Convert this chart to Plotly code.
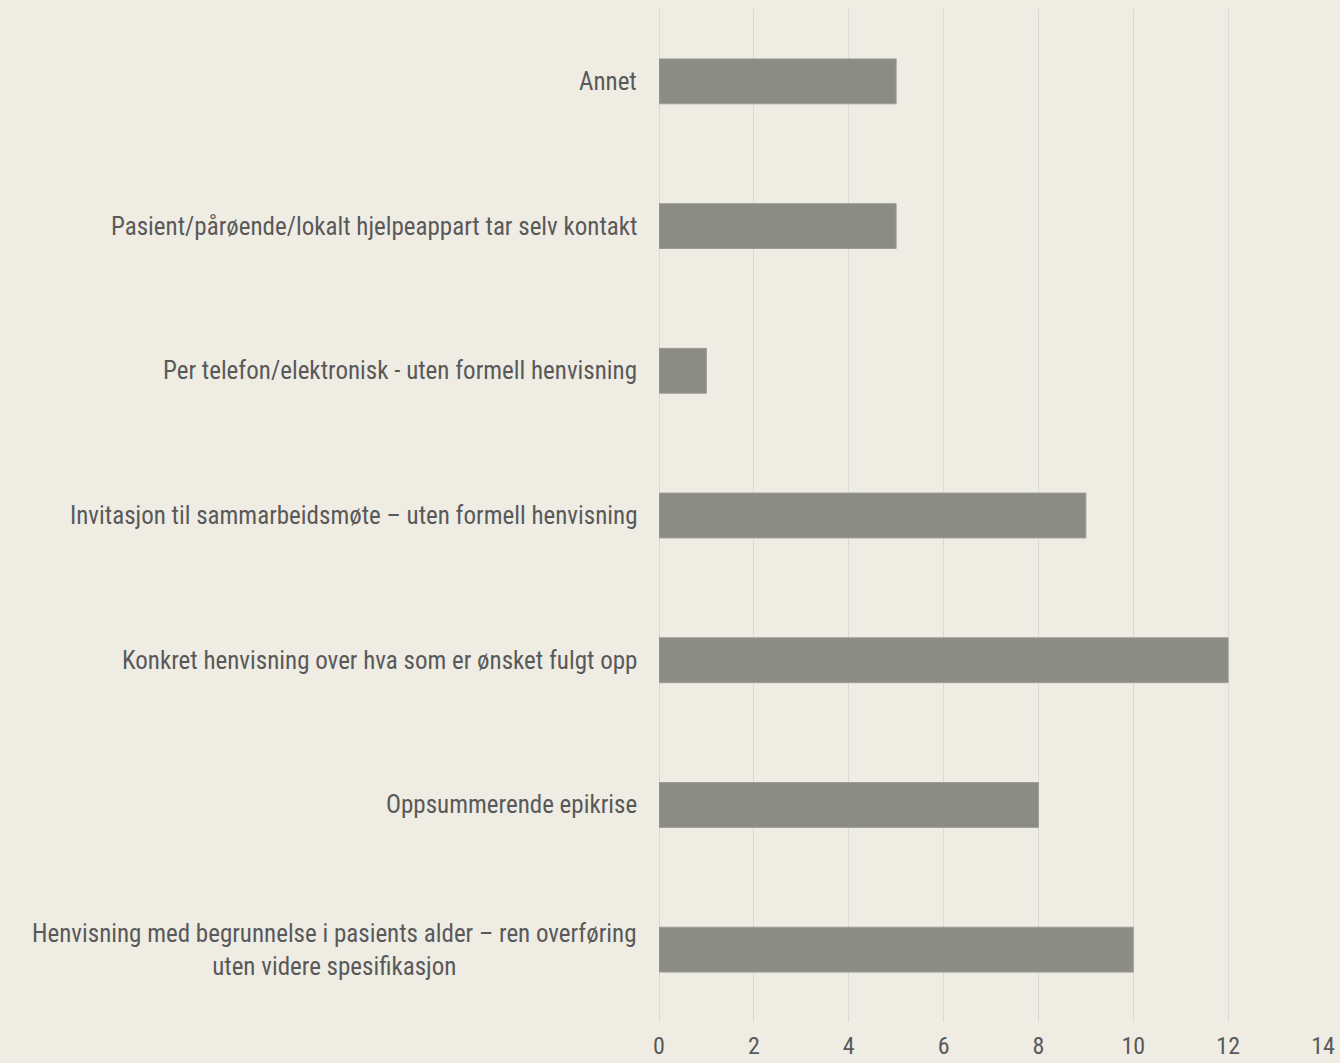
import plotly.graph_objects as go

categories = [
    "Henvisning med begrunnelse i pasients alder – ren overføring<br>uten videre spesifikasjon",
    "Oppsummerende epikrise",
    "Konkret henvisning over hva som er ønsket fulgt opp",
    "Invitasjon til sammarbeidsmøte – uten formell henvisning",
    "Per telefon/elektronisk - uten formell henvisning",
    "Pasient/pårøende/lokalt hjelpeappart tar selv kontakt",
    "Annet",
]
values = [10, 8, 12, 9, 1, 5, 5]
x_ticks = [0, 2, 4, 6, 8, 10, 12, 14]

FONT = "Roboto Condensed, Liberation Sans Narrow, Arial Narrow, sans-serif"
TXT = "#595959"

fig = go.Figure()
fig.add_trace(go.Bar(
    y=list(range(len(categories))), x=values, orientation="h",
    width=0.31,
    marker=dict(color="#8b8c85", line=dict(color="#9c9d97", width=1)),
    hoverinfo="skip",
))

for i, c in enumerate(categories):
    fig.add_annotation(
        x=0, xref="paper", xanchor="right", xshift=-20,
        y=i, yref="y", yanchor="middle",
        text=c, showarrow=False, align="center",
        font=dict(family=FONT, size=25, color=TXT),
    )

fig.update_layout(
    width=1340, height=1063,
    paper_bgcolor="#efece4", plot_bgcolor="#efece4",
    margin=dict(l=659, r=17, t=9, b=41, autoexpand=False),
    showlegend=False,
    font=dict(family=FONT, size=25, color=TXT),
    xaxis=dict(
        range=[0, 14], tickvals=x_ticks, ticktext=[str(t) for t in x_ticks],
        showgrid=True, gridcolor="#d9d9d6", gridwidth=1,
        zeroline=True, zerolinecolor="#d9d9d6", zerolinewidth=1,
        showline=False, ticks="", ticklabelstandoff=7, automargin=False,
        tickfont=dict(family=FONT, size=24, color=TXT),
    ),
    yaxis=dict(
        range=[-0.5, len(categories) - 0.5], automargin=False,
        showticklabels=False, showgrid=False, zeroline=False, showline=False,
    ),
)

fig.write_html(
    "out.html",
    config={"displayModeBar": False},
    post_script="document.body.style.margin='0';document.body.style.background='#efece4';",
)
